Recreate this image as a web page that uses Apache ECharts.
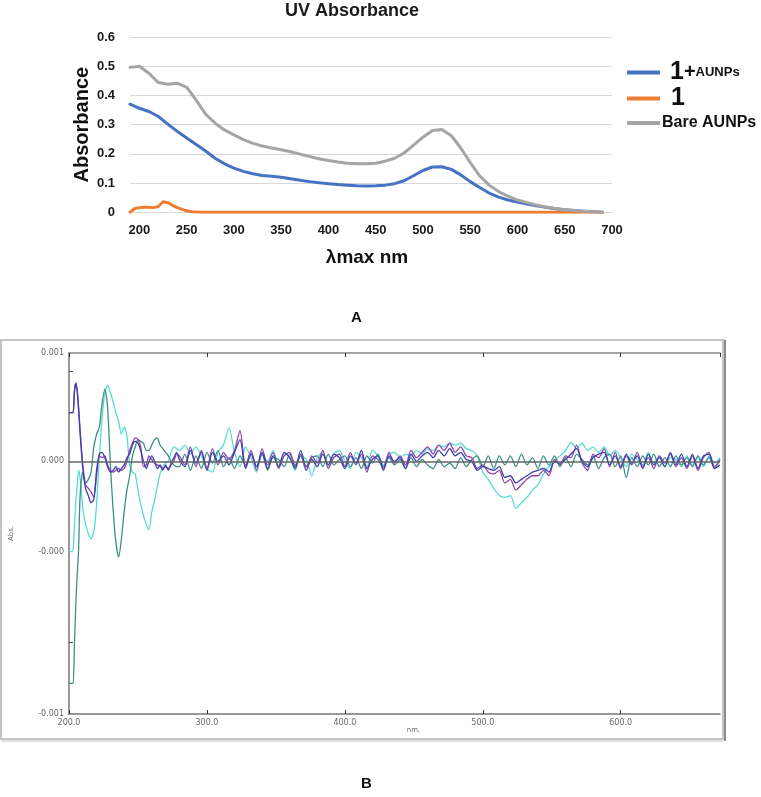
<!DOCTYPE html>
<html><head><meta charset="utf-8">
<script src="https://cdn.jsdelivr.net/npm/echarts@6/dist/echarts.min.js"></script>
<style>html,body{margin:0;padding:0;background:#fff}#c{width:761px;height:797px}</style>
</head><body><div id="c"></div>
<script>
// ---------- Panel A : UV Absorbance ----------
const xTicksA = [200, 250, 300, 350, 400, 450, 500, 550, 600, 650, 700];
const wlA = [190,200,210,220,230,240,250,260,270,280,290,300,310,320,330,340,350,360,370,380,390,400,410,420,430,440,450,460,470,480,490,500,510,520,530,540,550,560,570,580,590,600,610,620,630,640,650,660,670,680,690];
const absBlue = [0.370,0.356,0.345,0.328,0.302,0.277,0.254,0.232,0.210,0.185,0.166,0.151,0.140,0.132,0.126,0.123,0.120,0.115,0.110,0.105,0.101,0.098,0.095,0.093,0.091,0.090,0.091,0.093,0.098,0.108,0.125,0.143,0.155,0.156,0.147,0.128,0.105,0.085,0.066,0.052,0.042,0.035,0.028,0.022,0.017,0.012,0.009,0.006,0.004,0.002,0.0];
const absGray = [0.496,0.500,0.476,0.444,0.438,0.442,0.428,0.384,0.336,0.305,0.282,0.265,0.249,0.236,0.227,0.220,0.214,0.207,0.199,0.191,0.183,0.177,0.172,0.168,0.166,0.166,0.168,0.175,0.185,0.203,0.230,0.257,0.280,0.283,0.262,0.220,0.170,0.125,0.093,0.071,0.055,0.042,0.033,0.025,0.018,0.013,0.009,0.006,0.004,0.002,0.0];
const wlOrange = [190,195,200,205,210,215,220,225,230,235,240,245,250,255,260,265,270,300,350,400,450,500,550,600,650,690];
const absOrange = [0.0,0.013,0.016,0.017,0.017,0.016,0.020,0.036,0.033,0.024,0.016,0.010,0.005,0.002,0.001,0,0,0,0,0,0,0,0,0,0,0];

// ---------- Panel B : difference spectra (values in units of 1e-4 Abs) ----------
const wlB = [200,202,203,204,205,206,207,208,210,212,214,216,218,220,222,224,226,228,230,232,234,236,238,240,242,244,246,248,250,252,254,256,258,260,262,264,266,268,270,272,274,276,278,
 280,284,288,292,296,300,304,308,312,316,320,324,328,332,336,340,344,348,352,356,360,364,368,372,376,380,384,388,392,396,
 400,404,408,412,416,420,424,428,432,436,440,444,448,452,456,460,464,468,472,476,480,484,488,492,496,500,504,508,512,516,
 520,524,528,532,536,540,544,548,552,556,560,564,568,572,576,580,584,588,592,596,600,604,608,612,616,620,624,628,632,636,
 640,644,648,652,656,660,664,668,672];
const cyanB = [-5.0,-5.0,-4.9,-3.5,-2.2,-1.3,-0.5,-0.9,
 -2.6,-3.5,-4.0,-4.3,-3.9,-2.4,0.2,2.4,3.8,4.2,3.8,3.3,2.7,2.2,1.5,1.9,1.4,-0.2,-0.6,-0.7,-1.6,-2.4,-3.0,-3.5,-3.8,-2.8,-2.2,-1.4,-0.7,-0.3,-0.1,0.0,0.5,0.8,0.7,
 0.6,0.9,0.4,0.8,0.3,-0.4,-0.6,0.5,0.9,1.85,
 0.5,-0.3,0.8,0.2,-0.6,0.4,0.0,0.6,-0.3,0.5,
 0.2,-0.5,0.3,0.1,-0.8,0.2,0.5,-0.3,0.4,0.6,
 0.0,-0.4,0.5,0.2,-0.3,0.6,0.3,-0.2,0.4,0.5,
 0.2,0.4,0.3,0.6,0.4,0.7,0.6,0.9,0.8,1.0,
 0.9,1.0,0.7,0.6,0.3,-0.6,-1.0,-1.5,-1.9,-2.0,
 -1.9,-2.6,-2.3,-2.0,-1.6,-1.3,-0.7,-0.3,0.0,0.3,
 0.6,1.05,0.7,1.0,0.6,0.8,0.5,0.8,0.3,0.6,
 0.2,-0.3,0.4,0.1,-0.2,0.5,-0.1,0.3,-0.3,0.2,
 0.1,-0.3,0.3,-0.2,0.2,-0.3,0.3,-0.1,0.2];
const tealB = [-12.3,-12.3,-12.3,-10.0,-7.8,-6.2,-4.8,-2.0,
 -0.6,-1.2,-1.0,-0.6,0.8,1.5,1.9,3.2,4.0,3.0,-0.2,-2.7,-4.5,-5.3,-4.3,-2.8,-1.6,-0.8,0.3,0.8,1.2,1.1,1.0,0.6,0.6,0.9,1.2,1.3,0.9,0.7,0.5,0.3,0.0,-0.2,-0.3,
 -0.3,0.4,-0.5,0.3,-0.4,0.5,-0.1,0.6,-0.3,0.2,
 -0.4,0.3,-0.2,0.5,-0.3,0.4,-0.5,0.2,0.1,-0.3,
 0.4,-0.2,0.3,-0.5,0.2,0.3,-0.3,0.4,-0.2,0.1,
 0.3,-0.3,0.2,-0.4,0.3,-0.1,0.4,-0.3,0.2,-0.2,
 0.1,-0.4,0.2,-0.3,0.1,-0.2,-0.4,0.1,-0.3,-0.1,
 -0.4,0.2,-0.3,0.1,0.3,-0.3,0.3,-0.4,0.3,-0.2,
 0.3,-0.3,0.4,-0.2,0.2,-0.4,0.3,-0.2,0.3,-0.3,
 0.2,-0.3,0.4,0.1,-0.2,0.3,-0.4,0.2,0.4,-0.3,
 0.3,-0.9,0.2,-0.3,0.3,-0.2,0.4,-0.3,0.2,-0.3,
 0.3,-0.2,0.2,-0.3,0.3,-0.2,0.2,-0.4,0.1];
const purpleB = [2.7,2.7,2.7,4.0,4.35,3.9,3.0,1.8,
 -0.2,-1.3,-1.5,-1.7,-2.0,-0.8,0.3,0.2,0.3,-0.2,-0.5,-0.6,-0.5,-0.4,-0.5,-0.4,0.0,0.6,1.0,1.3,1.2,0.8,-0.3,-0.2,0.3,0.1,-0.1,-0.2,-0.3,-0.4,-0.3,-0.4,-0.2,0.0,0.4,
 0.3,-0.2,0.8,-0.3,0.6,-0.4,0.7,-0.2,0.5,0.1,
 0.6,1.7,-0.3,0.6,-0.5,0.7,-0.2,0.5,-0.4,0.3,
 0.5,-0.3,0.4,-0.5,0.3,-0.1,0.6,-0.4,0.2,0.4,
 -0.3,0.5,-0.2,0.4,-0.6,0.3,0.1,-0.4,0.5,-0.1,
 0.3,-0.2,0.6,0.2,0.5,0.8,0.4,0.9,0.6,1.0,
 0.5,0.8,0.3,0.2,-0.4,-0.2,-0.6,-0.7,-0.5,-1.2,
 -1.0,-1.6,-1.3,-1.0,-0.8,-0.8,-0.5,-0.8,0.1,-0.2,
 0.3,0.2,0.9,-0.1,-0.5,0.4,0.2,0.7,-0.3,0.5,
 -0.4,0.3,-0.2,0.5,-0.3,0.2,-0.4,0.3,-0.1,0.4,
 -0.3,0.2,-0.4,0.3,-0.5,0.2,0.5,-0.3,0.1];
const navyB = [2.7,2.7,2.7,3.9,4.3,3.8,2.8,1.6,
 -0.4,-1.5,-1.9,-2.3,-2.1,-0.5,0.4,0.5,0.2,-0.3,-0.6,-0.5,-0.3,-0.6,-0.4,-0.2,0.2,0.4,0.9,1.1,1.0,0.6,0.0,-0.4,0.0,0.3,0.0,-0.4,-0.2,-0.5,-0.2,-0.5,-0.1,0.2,0.5,
 0.1,-0.3,0.6,-0.1,0.5,-0.5,0.5,0.0,0.3,-0.2,
 0.5,1.2,-0.4,0.4,-0.3,0.5,-0.4,0.3,-0.3,0.5,
 0.2,-0.4,0.6,-0.3,0.1,-0.3,0.4,-0.2,0.4,0.2,
 -0.4,0.3,-0.1,0.6,-0.4,0.1,0.3,-0.5,0.3,0.0,
 0.2,-0.4,0.4,0.0,0.3,0.5,0.2,0.6,0.3,0.7,
 0.3,0.5,0.1,0.0,-0.5,-0.3,-0.4,-0.5,-0.3,-0.9,
 -0.8,-1.2,-1.0,-0.8,-0.6,-0.5,-0.4,-0.6,0.0,-0.1,
 0.1,0.4,0.7,0.0,-0.3,0.2,0.4,0.5,-0.2,0.3,
 -0.3,0.4,-0.1,0.3,-0.4,0.4,-0.2,0.2,-0.3,0.5,
 -0.2,0.4,-0.3,0.4,-0.4,0.3,0.4,-0.4,-0.2];
const yLabelValsB = [-14, -5, 0, 6];
const yLabelTextB = ['-0.001', '-0.000', '0.000', '0.001'];
const yTickValsB = [-10, 5];

const pairs = (xs, ys) => xs.map((x, i) => [x, ys[i]]);
const chart = echarts.init(document.getElementById('c'), null, {renderer: 'canvas'});
const boldLbl = {fontFamily: 'Liberation Sans, Arial', fontWeight: 'bold', fontSize: 13, color: '#1a1a1a'};
const smallLbl = {fontFamily: 'DejaVu Sans, Verdana', fontSize: 8, color: '#666'};
const lineB = (name, data, color) => ({
  name, type: 'line', xAxisIndex: 1, yAxisIndex: 1, data, showSymbol: false, smooth: 0.25,
  lineStyle: {color, width: 1.3}, itemStyle: {color}, silent: true, z: 3
});
const lineA = (name, data, color) => ({
  name, type: 'line', xAxisIndex: 0, yAxisIndex: 0, data, smooth: false, showSymbol: false,
  lineStyle: {color, width: 3, join: 'round', cap: 'round'}, itemStyle: {color}, z: 3
});

chart.setOption({
  animation: false,
  backgroundColor: '#fff',
  title: {text: 'UV Absorbance', left: 347, top: -3, textAlign: 'center',
    textStyle: {fontFamily: 'Liberation Sans, Arial', fontSize: 18, fontWeight: 'bold', color: '#1a1a1a'}},
  legend: [
    {data: ['1+AUNPs'], left: 622, top: 55, itemWidth: 33, itemHeight: 4, icon: 'rect',
     formatter: () => '{a|1}{b|+}{c|AUNPs}',
     textStyle: {padding: [0, 0, 0, 5], rich: {
       a: {fontFamily: 'Liberation Sans, Arial', fontWeight: 'bold', fontSize: 25, color: '#111'},
       b: {fontFamily: 'Liberation Sans, Arial', fontWeight: 'bold', fontSize: 20, color: '#111'},
       c: {fontFamily: 'Liberation Sans, Arial', fontWeight: 'bold', fontSize: 13, color: '#111'}}}},
    {data: ['1'], left: 622, top: 81, itemWidth: 33, itemHeight: 4, icon: 'rect',
     textStyle: {padding: [0, 0, 0, 6], fontFamily: 'Liberation Sans, Arial', fontWeight: 'bold', fontSize: 25, color: '#111'}},
    {data: ['Bare AUNPs'], left: 622, top: 110, itemWidth: 33, itemHeight: 4, icon: 'rect',
     textStyle: {padding: [0, 0, 0, -3], fontFamily: 'Liberation Sans, Arial', fontWeight: 'bold', fontSize: 16, color: '#111'}}
  ],
  grid: [
    {left: 130, top: 37, width: 482, height: 175.3, containLabel: false},
    {left: 68, top: 353, width: 652, height: 361, containLabel: false}
  ],
  xAxis: [
    {gridIndex: 0, type: 'value', min: 190, max: 700,
     name: 'λmax nm', nameLocation: 'middle', nameGap: 36, nameMoveOverlap: false,
     nameTextStyle: {fontFamily: 'Liberation Sans, Arial', fontWeight: 'bold', fontSize: 19, color: '#111', padding: [0, 8, 0, 0]},
     axisLine: {show: true, lineStyle: {color: '#d9d9d9'}}, axisTick: {show: false},
     splitLine: {show: false},
     axisLabel: Object.assign({customValues: xTicksA, margin: 12}, boldLbl)},
    {gridIndex: 1, type: 'value', min: 200, max: 672, interval: 100, position: 'bottom',
     name: 'nm.', nameLocation: 'middle', nameGap: 13, nameMoveOverlap: false,
     nameTextStyle: Object.assign({}, smallLbl, {fontSize: 7, padding: [0, 0, 0, 38]}),
     axisLine: {show: true, onZero: false, lineStyle: {color: '#777', width: 1.5}},
     axisTick: {show: true, inside: true, length: 4, lineStyle: {color: '#333'}},
     splitLine: {show: false},
     axisLabel: Object.assign({margin: 5, showMaxLabel: false, formatter: v => v.toFixed(1)}, smallLbl)},
    {gridIndex: 1, type: 'value', min: 200, max: 672, interval: 100, position: 'top',
     axisLine: {show: true, onZero: false, lineStyle: {color: '#888', width: 1.5}},
     axisTick: {show: true, inside: true, length: 4, lineStyle: {color: '#333'}},
     axisLabel: {show: false}, splitLine: {show: false}}
  ],
  yAxis: [
    {gridIndex: 0, type: 'value', min: 0, max: 0.6, interval: 0.1,
     name: 'Absorbance', nameLocation: 'middle', nameGap: 38, nameRotate: 90, nameMoveOverlap: false,
     nameTextStyle: {fontFamily: 'Liberation Sans, Arial', fontWeight: 'bold', fontSize: 20, color: '#111'},
     axisLine: {show: false}, axisTick: {show: false},
     splitLine: {lineStyle: {color: '#d9d9d9', width: 1}},
     axisLabel: Object.assign({margin: 15, formatter: v => (v === 0 ? '0' : v.toFixed(1))}, boldLbl)},
    {gridIndex: 1, type: 'value', min: -14, max: 6,
     name: 'Abs.', nameLocation: 'middle', nameGap: 54, nameRotate: 90, nameMoveOverlap: false,
     nameTextStyle: Object.assign({}, smallLbl, {fontSize: 7}),
     axisLine: {show: true, onZero: false, lineStyle: {color: '#777', width: 1.5}},
     axisTick: {show: true, inside: true, length: 4, customValues: yTickValsB, lineStyle: {color: '#555'}},
     splitLine: {show: false},
     axisLabel: Object.assign({margin: 5, customValues: yLabelValsB,
       formatter: v => yLabelTextB[yLabelValsB.indexOf(v)]}, smallLbl)}
  ],
  graphic: [
    {type: 'rect', shape: {x: 1, y: 340, width: 722, height: 399}, style: {fill: 'none', stroke: '#c4c4c4', lineWidth: 2}, silent: true},
    {type: 'line', shape: {x1: 725, y1: 340, x2: 725, y2: 741}, style: {stroke: '#8a8a8a', lineWidth: 2}, silent: true},
    {type: 'line', shape: {x1: 1, y1: 741, x2: 723, y2: 741}, style: {stroke: '#c4c4c4', lineWidth: 1}, silent: true},
    {type: 'text', left: 351, top: 310, style: {text: 'A', font: 'bold 15px Liberation Sans, Arial', fill: '#111'}},
    {type: 'text', left: 361, top: 776, style: {text: 'B', font: 'bold 15px Liberation Sans, Arial', fill: '#111'}}
  ],
  series: [
    lineA('1+AUNPs', pairs(wlA, absBlue), '#4472C4'),
    lineA('1', pairs(wlOrange, absOrange), '#ED7D31'),
    lineA('Bare AUNPs', pairs(wlA, absGray), '#A5A5A5'),
    Object.assign(lineB('cyan', pairs(wlB, cyanB), '#55dcd4'), {
      markLine: {silent: true, symbol: 'none', label: {show: false},
        lineStyle: {color: '#666', width: 1.5, type: 'solid'}, data: [{yAxis: 0}]}}),
    lineB('teal', pairs(wlB, tealB), '#3b8f84'),
    lineB('purple', pairs(wlB, purpleB), '#9242ab'),
    lineB('navy', pairs(wlB, navyB), '#3d3fae')
  ]
});
</script>
</body></html>
